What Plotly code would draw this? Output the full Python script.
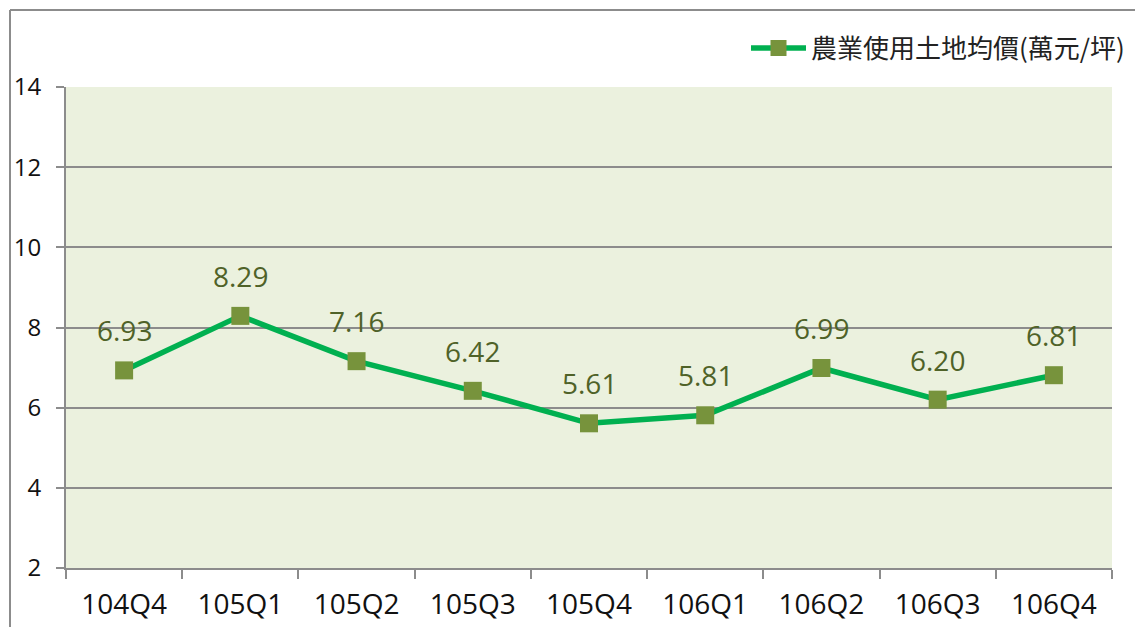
import plotly.graph_objects as go

quarters = ["104Q4", "105Q1", "105Q2", "105Q3", "105Q4", "106Q1", "106Q2", "106Q3", "106Q4"]
prices = [6.93, 8.29, 7.16, 6.42, 5.61, 5.81, 6.99, 6.20, 6.81]
labels = ["6.93", "8.29", "7.16", "6.42", "5.61", "5.81", "6.99", "6.20", "6.81"]
series_name = "農業使用土地均價(萬元/坪)"
y_ticks = [2, 4, 6, 8, 10, 12, 14]

W, H = 1135, 627
L, R, T, B = 66, 23, 87, 59
pw, ph = W - L - R, H - T - B

fig = go.Figure()
fig.add_trace(go.Scatter(
    x=quarters, y=prices, mode="lines+markers", name=series_name,
    line=dict(color="#00B050", width=5.5),
    marker=dict(symbol="square", size=18, color="#77933C", line=dict(width=0)),
    cliponaxis=False,
))
for q, v, t in zip(quarters, prices, labels):
    fig.add_annotation(x=q, y=v, text=t, showarrow=False, yshift=40,
                       font=dict(family="Open Sans", size=28, color="#4F6228"))

gray = "#8C8C8C"
# outer border (top and left)
fig.add_shape(type="line", xref="paper", yref="paper",
              x0=(10 - L) / pw, x1=(W + 5 - L) / pw, y0=(H - B - 10) / ph, y1=(H - B - 10) / ph,
              line=dict(color=gray, width=2))
fig.add_shape(type="line", xref="paper", yref="paper",
              x0=(10 - L) / pw, x1=(10 - L) / pw, y0=(H - B - 10) / ph, y1=-(B + 5) / ph,
              line=dict(color=gray, width=2))

fig.update_layout(
    width=W, height=H,
    margin=dict(l=L, r=R, t=T, b=B, autoexpand=False),
    paper_bgcolor="white", plot_bgcolor="#EBF1DE",
    showlegend=True,
    legend=dict(x=(1130 - L) / pw, xanchor="right", y=(H - B - 48) / ph, yanchor="middle",
                font=dict(family="Noto Sans CJK TC", size=26, color="#222222"),
                bgcolor="rgba(0,0,0,0)", itemwidth=55),
    xaxis=dict(type="category", showgrid=False, showline=True, linecolor=gray, linewidth=2,
               ticks="outside", tickson="boundaries", ticklen=9, tickcolor=gray, tickwidth=2,
               tickfont=dict(family="Open Sans", size=28, color="#111111"),
               ticklabelstandoff=10, automargin=False,
               range=[-0.5, len(quarters) - 0.5], fixedrange=True),
    yaxis=dict(range=[2, 14], tickvals=y_ticks, showgrid=True, gridcolor=gray, gridwidth=1.5,
               showline=True, linecolor=gray, linewidth=2, zeroline=False,
               ticks="outside", ticklen=8, tickcolor=gray, tickwidth=2,
               tickfont=dict(family="Open Sans", size=24, color="#111111"),
               ticklabelstandoff=10, automargin=False,
               fixedrange=True),
)

fig.write_html("out.html", config={"displayModeBar": False},
               post_script="document.body.style.margin='0';document.body.style.overflow='hidden';")
